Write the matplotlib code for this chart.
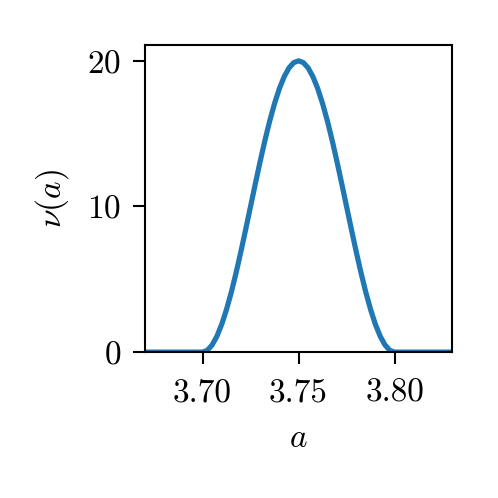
import matplotlib
matplotlib.use("Agg")
import matplotlib.pyplot as plt

plt.rcParams['font.family'] = 'serif'
plt.rcParams['font.serif'] = ['cmr10']
plt.rcParams['mathtext.fontset'] = 'cm'
plt.rcParams['axes.formatter.use_mathtext'] = True
plt.rcParams['font.size'] = 16

# values
a = [3.67, 3.70, 3.7025, 3.705, 3.7075, 3.71, 3.7125, 3.715, 3.7175, 3.72,
     3.7225, 3.725, 3.7275, 3.73, 3.7325, 3.735, 3.7375, 3.74, 3.7425, 3.745,
     3.7475, 3.75, 3.7525, 3.755, 3.7575, 3.76, 3.7625, 3.765, 3.7675, 3.77,
     3.7725, 3.775, 3.7775, 3.78, 3.7825, 3.785, 3.7875, 3.79, 3.7925, 3.795,
     3.7975, 3.80, 3.83]
nu = [0.0, 0.0, 0.12, 0.49, 1.09, 1.91, 2.93, 4.12, 5.46, 6.91,
      8.44, 10.0, 11.56, 13.09, 14.54, 15.88, 17.07, 18.09, 18.91, 19.51,
      19.88, 20.0, 19.88, 19.51, 18.91, 18.09, 17.07, 15.88, 14.54, 13.09,
      11.56, 10.0, 8.44, 6.91, 5.46, 4.12, 2.93, 1.91, 1.09, 0.49,
      0.12, 0.0, 0.0]
xticks = [3.70, 3.75, 3.80]
yticks = [0, 10, 20]

fig = plt.figure(figsize=(3.32, 3.32), dpi=150)
ax = fig.add_axes([0.291, 0.293, 0.617, 0.617])
ax.plot(a, nu, color='#1f77b4', lw=2.5)
ax.set_xlim(3.67, 3.83)
ax.set_ylim(0, 21.1)
ax.set_xticks(xticks)
ax.set_xticklabels(['3.70', '3.75', '3.80'])
ax.set_yticks(yticks)
ax.tick_params(length=5.8, width=1, pad=5.5)
ax.tick_params(axis='x', pad=7)
for s in ax.spines.values():
    s.set_linewidth(1)
ax.set_xlabel(r'$a$', labelpad=8)
ax.set_ylabel(r'$\nu(a)$', labelpad=8)
fig.savefig('out.png', dpi=150)
